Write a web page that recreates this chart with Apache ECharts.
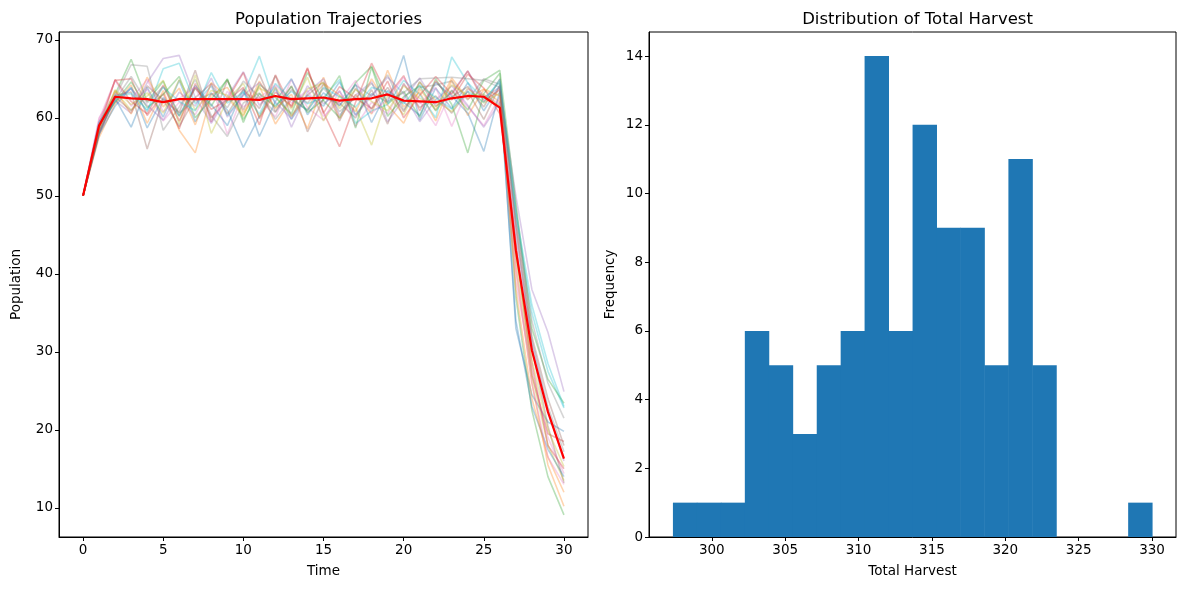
<!DOCTYPE html>
<html>
<head>
<meta charset="utf-8">
<script src="https://cdn.jsdelivr.net/npm/echarts@6/dist/echarts.min.js"></script>
<style>
  html, body { margin: 0; padding: 0; background: #fff; }
  #chart { width: 1189px; height: 590px; }
</style>
</head>
<body>
<div id="chart"></div>
<script>
// time axis of the trajectories
const timeSteps = [0,1,2,3,4,5,6,7,8,9,10,11,12,13,14,15,16,17,18,19,20,21,22,23,24,25,26,27,28,29,30];

// individual simulated trajectories (approximate)
const traj01 = [50,58.2,62.5,58.8,63.9,60.1,64.8,59.5,63.2,61.0,56.2,60.2,63.7,59.8,62.9,61.5,64.6,60.4,63.1,62.0,68.0,59.7,63.8,61.2,64.5,60.9,64.2,33.0,24.5,21.0,19.8];
const traj02 = [50,57.5,61.8,64.2,59.3,63.5,58.4,55.5,63.0,63.9,60.7,64.1,59.2,62.4,61.0,65.2,59.9,63.0,60.5,66.1,61.4,63.3,59.6,64.8,60.3,63.6,62.0,40.5,26.0,15.5,10.2];
const traj03 = [50,58.8,63.0,67.5,62.1,64.7,60.2,63.8,61.5,65.0,59.4,64.3,62.6,60.5,65.8,62.2,60.0,64.5,66.6,61.8,63.4,60.1,65.0,61.7,55.5,63.1,65.7,37.0,22.5,14.0,9.1];
const traj04 = [50,59.3,64.8,65.0,60.3,63.1,58.6,64.4,60.0,62.2,63.9,59.1,65.5,61.3,66.3,60.7,56.3,62.0,67.0,62.8,65.4,60.9,64.7,62.3,65.6,63.8,60.5,44.0,27.0,19.5,18.5];
const traj05 = [50,58.0,62.2,60.6,64.5,67.6,68.0,62.6,59.3,62.7,65.9,61.6,64.0,58.8,63.3,65.0,60.3,62.9,64.6,59.5,62.4,65.1,61.8,63.2,66.0,62.6,63.9,50.0,38.0,32.5,24.9];
const traj06 = [50,57.8,62.9,63.3,56.0,62.4,60.7,66.1,59.5,64.8,61.0,65.6,60.8,64.1,58.2,62.5,61.9,60.0,63.6,59.2,64.4,61.3,62.8,60.6,63.4,59.8,64.1,46.0,30.5,20.5,13.2];
const traj07 = [50,59.8,64.8,61.5,63.7,59.6,62.0,60.4,64.3,57.9,63.1,62.5,60.1,64.9,61.3,59.7,63.5,58.9,62.0,60.5,64.3,62.1,59.0,63.6,61.4,59.0,62.7,39.0,27.5,19.0,14.4];
const traj08 = [50,58.5,62.6,66.8,66.6,58.4,61.4,64.9,60.3,57.6,61.9,63.2,59.8,62.6,60.9,63.8,61.5,64.2,62.8,65.5,61.0,63.9,64.2,64.7,62.3,65.0,64.3,48.5,31.5,23.0,17.2];
const traj09 = [50,58.9,63.4,61.0,62.8,64.8,59.2,65.5,58.0,62.3,64.4,60.1,63.9,61.1,65.2,59.6,62.8,61.3,56.5,62.9,60.4,64.6,62.2,60.8,63.8,61.9,63.2,42.0,27.0,18.0,13.5];
const traj10 = [50,59.0,62.1,63.8,60.8,66.3,67.0,61.8,64.1,60.3,63.0,67.9,61.6,63.4,61.8,62.6,64.9,59.3,60.9,61.7,64.8,63.0,60.0,67.8,64.5,62.4,64.6,47.5,35.0,27.5,22.8];
const traj11 = [50,57.9,61.5,63.9,58.7,62.6,60.3,64.1,61.7,59.0,63.6,57.6,62.1,65.0,60.4,63.2,61.6,64.3,59.4,63.5,62.0,60.3,64.5,62.8,60.6,55.7,63.4,34.0,23.0,17.5,14.0];
const traj12 = [50,58.4,63.5,60.5,65.2,61.4,63.8,59.1,64.5,62.6,60.2,64.7,61.2,63.0,58.6,64.4,62.9,60.8,65.0,61.6,59.3,63.7,61.0,65.1,62.4,63.7,62.8,38.0,24.0,16.5,12.0];
const traj13 = [50,59.1,62.0,64.6,61.3,63.0,65.3,60.0,62.4,64.9,59.8,63.1,61.4,64.0,60.7,62.3,65.4,58.7,66.5,60.2,62.7,64.1,60.9,63.5,61.0,64.8,66.1,49.0,33.0,26.5,23.4];
const traj14 = [50,58.6,64.9,62.1,60.5,64.2,59.6,63.9,61.1,62.3,65.8,59.9,63.3,61.5,66.4,60.6,64.0,62.5,61.2,64.7,60.0,62.9,65.3,63.0,66.0,62.1,63.6,43.5,28.5,18.0,15.0];
const traj15 = [50,59.5,62.4,63.7,61.6,59.7,63.3,61.5,65.1,60.1,62.9,64.5,62.0,59.9,64.1,61.8,63.4,60.3,62.8,65.2,63.1,59.5,62.3,64.1,61.6,58.8,62.0,45.0,31.0,22.5,16.0];
const traj16 = [50,58.1,62.7,60.9,64.1,62.3,58.9,62.6,64.4,60.5,63.7,61.2,65.4,60.2,62.9,64.6,59.6,63.8,61.1,63.9,60.8,64.6,61.5,62.7,64.0,61.4,65.0,46.5,32.0,24.0,18.0];
const traj17 = [50,60.0,63.1,62.4,64.9,60.8,62.5,63.9,59.4,63.4,61.4,62.6,64.2,61.9,63.5,60.2,62.1,64.8,60.6,62.4,65.2,61.8,63.9,58.9,63.7,62.9,61.8,41.0,26.0,16.5,13.0];
const traj18 = [50,58.3,62.3,65.3,61.9,64.0,60.6,62.2,63.1,61.3,64.7,62.7,60.7,63.6,61.9,64.3,60.8,62.6,64.4,62.1,63.2,65.0,65.1,65.2,65.0,64.8,63.9,47.0,34.0,26.0,21.5];
const traj19 = [50,58.7,63.6,61.7,63.2,60.6,64.9,61.0,63.5,62.9,60.4,63.8,62.8,60.2,63.7,64.5,61.2,63.6,62.1,60.9,64.1,62.5,61.4,64.2,62.9,63.0,61.5,42.5,29.0,20.0,15.3];
const traj20 = [50,59.4,62.8,63.1,61.0,63.9,62.1,60.9,65.8,61.9,63.3,60.5,64.4,62.3,61.0,63.9,62.7,61.4,63.9,63.3,61.8,64.2,62.6,61.1,63.4,62.0,64.9,48.0,36.0,28.5,23.0];
const trajectories = [traj01,traj02,traj03,traj04,traj05,traj06,traj07,traj08,traj09,traj10,
                      traj11,traj12,traj13,traj14,traj15,traj16,traj17,traj18,traj19,traj20];

// mean trajectory (red)
const meanTraj = [50,59.0,62.7,62.5,62.4,62.0,62.4,62.4,62.4,62.4,62.4,62.3,62.8,62.4,62.5,62.6,62.2,62.4,62.5,63.0,62.2,62.1,62.0,62.5,62.8,62.7,61.3,43.0,30.2,22.3,16.3];

// histogram of total harvest: 20 bins
const harvestBinEdges = [297.35,298.98,300.62,302.25,303.88,305.51,307.15,308.78,310.41,312.04,
                         313.68,315.31,316.94,318.57,320.21,321.84,323.47,325.10,326.74,328.37,330.00];
const harvestCounts = [1,1,1,6,5,3,5,6,14,6,12,9,9,5,11,5,0,0,0,1];

// tick labels
const timeTicks = [0,5,10,15,20,25,30];
const populationTicks = [10,20,30,40,50,60,70];
const harvestTicks = [300,305,310,315,320,325,330];
const frequencyTicks = [0,2,4,6,8,10,12,14];

const tab10 = ['#1f77b4','#ff7f0e','#2ca02c','#d62728','#9467bd','#8c564b','#e377c2','#7f7f7f','#bcbd22','#17becf'];
const FONT = 'DejaVu Sans';

function axisCommon(ticks) {
  return {
    axisLine: { show: true, onZero: false, lineStyle: { color: '#000', width: 1 } },
    axisTick: { show: true, inside: false, length: 4, customValues: ticks, lineStyle: { color: '#000' } },
    axisLabel: { customValues: ticks, color: '#000', fontFamily: FONT, fontSize: 13.5, margin: 6 },
    splitLine: { show: false },
    nameTextStyle: { color: '#000', fontFamily: FONT, fontSize: 13.5 }
  };
}

const series = trajectories.map((tr, i) => ({
  type: 'line',
  xAxisIndex: 0, yAxisIndex: 0,
  data: tr.map((v, k) => [timeSteps[k], v]),
  showSymbol: false, symbol: 'none',
  lineStyle: { color: tab10[i % 10], width: 1.6, opacity: 0.33 },
  itemStyle: { color: tab10[i % 10] },
  silent: true, z: 2
}));

series.push({
  type: 'line',
  xAxisIndex: 0, yAxisIndex: 0,
  data: meanTraj.map((v, k) => [timeSteps[k], v]),
  showSymbol: false, symbol: 'none',
  lineStyle: { color: '#ff0000', width: 2.2 },
  itemStyle: { color: '#ff0000' },
  z: 5
});

series.push({
  type: 'custom',
  xAxisIndex: 1, yAxisIndex: 1,
  data: harvestCounts.map((c, i) => [harvestBinEdges[i], harvestBinEdges[i + 1], c]),
  encode: { x: [0, 1], y: 2 },
  renderItem: function (params, api) {
    const p0 = api.coord([api.value(0), api.value(2)]);
    const p1 = api.coord([api.value(1), 0]);
    return {
      type: 'rect',
      shape: { x: p0[0], y: p0[1], width: p1[0] - p0[0] + 0.5, height: p1[1] - p0[1] },
      style: { fill: '#1f77b4' }
    };
  },
  z: 2
});

const chart = echarts.init(document.getElementById('chart'), null, { renderer: 'canvas' });
chart.setOption({
  animation: false,
  backgroundColor: '#fff',
  title: [
    { text: 'Population Trajectories', left: 323.5, top: 6, textAlign: 'center',
      textStyle: { color: '#000', fontFamily: FONT, fontSize: 16.5, fontWeight: 'normal' } },
    { text: 'Distribution of Total Harvest', left: 912.5, top: 6, textAlign: 'center',
      textStyle: { color: '#000', fontFamily: FONT, fontSize: 16.5, fontWeight: 'normal' } }
  ],
  grid: [
    { left: 59, right: 601, top: 32, bottom: 53, show: true, borderColor: '#000', borderWidth: 1, backgroundColor: 'transparent' },
    { left: 649, right: 13, top: 32, bottom: 53, show: true, borderColor: '#000', borderWidth: 1, backgroundColor: 'transparent' }
  ],
  xAxis: [
    Object.assign({ type: 'value', gridIndex: 0, min: -1.5, max: 31.5, name: 'Time', nameLocation: 'middle', nameGap: 27 }, axisCommon(timeTicks)),
    Object.assign({ type: 'value', gridIndex: 1, min: 295.72, max: 331.63, name: 'Total Harvest', nameLocation: 'middle', nameGap: 27 }, axisCommon(harvestTicks))
  ],
  yAxis: [
    Object.assign({ type: 'value', gridIndex: 0, min: 6.26, max: 71.0, name: 'Population', nameLocation: 'middle', nameGap: 36 }, axisCommon(populationTicks)),
    Object.assign({ type: 'value', gridIndex: 1, min: 0, max: 14.7, name: 'Frequency', nameLocation: 'middle', nameGap: 32 }, axisCommon(frequencyTicks))
  ],
  series: series
});
</script>
</body>
</html>
